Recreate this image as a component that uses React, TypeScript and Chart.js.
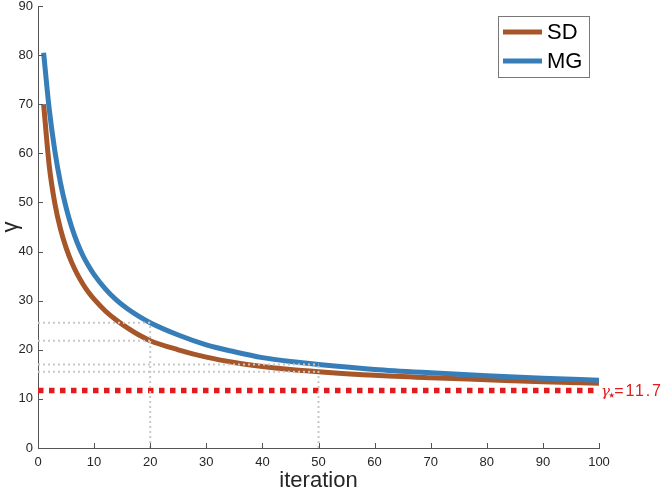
import { useEffect, useRef } from "react"
import { Chart, registerables } from "chart.js"

Chart.register(...registerables)

const iterations = [1, 2, 3, 4, 5, 6, 7, 8, 9, 10, 12, 14, 16, 18, 20, 25, 30, 35, 40, 45, 50, 60, 70, 80, 90, 100]
const sdValues = [70, 57.5, 49.8, 44.6, 40.8, 37.8, 35.4, 33.4, 31.7, 30.3, 27.9, 26.0, 24.4, 23.0, 21.85, 20.0, 18.5, 17.4, 16.6, 16.0, 15.55, 14.8, 14.3, 13.9, 13.5, 13.2]
const mgValues = [80.5, 69.0, 60.5, 54.0, 49.0, 45.0, 41.8, 39.2, 37.1, 35.3, 32.4, 30.1, 28.3, 26.8, 25.5, 23.0, 21.0, 19.6, 18.4, 17.6, 17.0, 16.0, 15.3, 14.7, 14.2, 13.8]
const gammaStar = 11.7
const markedIterations = [20, 50]
const xTicks = [0, 10, 20, 30, 40, 50, 60, 70, 80, 90, 100]
const yTicks = [0, 10, 20, 30, 40, 50, 60, 70, 80, 90]

const SD_COLOR = "#a65628"
const MG_COLOR = "#377eb8"
const STAR_COLOR = "#e41a1c"
const GUIDE_COLOR = "#c8c8c8"
const AXIS_COLOR = "#555555"
const TEXT_COLOR = "#262626"
const FONT = "'Liberation Sans', Arial, sans-serif"

const toPoints = (ys: number[]) => iterations.map((x, i) => ({ x, y: ys[i] }))
const valueAt = (ys: number[], it: number) => ys[iterations.indexOf(it)]

// inward tick marks, legend box and the gamma* label
const decorations = {
  id: "decorations",
  afterDraw(chart: Chart) {
    const { ctx, chartArea } = chart
    const xs = chart.scales.x
    const ys = chart.scales.y
    ctx.save()
    ctx.strokeStyle = AXIS_COLOR
    ctx.lineWidth = 1
    ctx.beginPath()
    xTicks.forEach((t) => {
      const px = Math.round(xs.getPixelForValue(t)) + 0.5
      ctx.moveTo(px, chartArea.bottom)
      ctx.lineTo(px, chartArea.bottom - 5)
    })
    yTicks.forEach((t) => {
      const py = Math.round(ys.getPixelForValue(t)) + 0.5
      ctx.moveTo(chartArea.left, py)
      ctx.lineTo(chartArea.left + 5, py)
    })
    ctx.stroke()

    // gamma* label
    const ly = ys.getPixelForValue(gammaStar) + 5
    let lx = xs.getPixelForValue(100) + 2
    ctx.fillStyle = STAR_COLOR
    ctx.textBaseline = "alphabetic"
    ctx.textAlign = "left"
    ctx.font = `italic 15px 'DejaVu Serif', serif`
    ctx.fillText("γ", lx, ly)
    lx += ctx.measureText("γ").width
    ctx.font = `15px 'DejaVu Sans', sans-serif`
    ctx.fillText("⋆", lx - 3, ly + 4)
    lx += ctx.measureText("⋆").width - 5
    ctx.font = `16px ${FONT}`
    ;(ctx as any).letterSpacing = "1.8px"
    ctx.fillText("=11.7", lx, ly)
    ;(ctx as any).letterSpacing = "0px"

    // legend
    ctx.fillStyle = "#ffffff"
    ctx.fillRect(498, 16, 91, 61)
    ctx.strokeStyle = "#777777"
    ctx.lineWidth = 1
    ctx.strokeRect(498.5, 16.5, 91, 61)
    const entries: [string, string, number][] = [
      ["SD", SD_COLOR, 32],
      ["MG", MG_COLOR, 61],
    ]
    entries.forEach(([label, color, y]) => {
      ctx.strokeStyle = color
      ctx.lineWidth = 5
      ctx.beginPath()
      ctx.moveTo(503, y)
      ctx.lineTo(542, y)
      ctx.stroke()
      ctx.fillStyle = "#000000"
      ctx.font = `22px ${FONT}`
      ctx.textBaseline = "middle"
      ctx.fillText(label, 547, y + 1)
    })
    ctx.restore()
  },
}

export default function App() {
  const chartRef = useRef<HTMLCanvasElement>(null)
  const chartInstance = useRef<Chart | null>(null)

  useEffect(() => {
    if (!chartRef.current) return
    if (chartInstance.current) chartInstance.current.destroy()
    const ctx = chartRef.current.getContext("2d")
    if (!ctx) return

    const guides: { x: number; y: number }[][] = []
    markedIterations.forEach((it) => {
      const sd = valueAt(sdValues, it)
      const mg = valueAt(mgValues, it)
      ;[mg, sd].forEach((v) => {
        guides.push([
          { x: 0, y: v },
          { x: it, y: v },
        ])
      })
      guides.push([
        { x: it, y: 0 },
        { x: it, y: Math.max(sd, mg) },
      ])
    })

    chartInstance.current = new Chart(ctx, {
      type: "line",
      data: {
        datasets: [
          ...guides.map((g) => ({
            label: "",
            data: g,
            borderColor: GUIDE_COLOR,
            borderWidth: 2,
            borderDash: [2, 3],
            pointRadius: 0,
            order: 0,
          })),
          {
            label: "gamma*",
            data: [
              { x: 0, y: gammaStar },
              { x: 100, y: gammaStar },
            ],
            borderColor: STAR_COLOR,
            borderWidth: 5.5,
            borderDash: [5.5, 5.5],
            pointRadius: 0,
            order: 0,
          },
          {
            label: "MG",
            data: toPoints(mgValues),
            borderColor: MG_COLOR,
            borderWidth: 5,
            pointRadius: 0,
            cubicInterpolationMode: "monotone",
            order: 1,
          },
          {
            label: "SD",
            data: toPoints(sdValues),
            borderColor: SD_COLOR,
            borderWidth: 5,
            pointRadius: 0,
            cubicInterpolationMode: "monotone",
            order: 2,
          },
        ],
      },
      options: {
        responsive: false,
        animation: false,
        events: [],
        layout: { padding: { left: 0, right: 65, top: 6, bottom: 0 } },
        plugins: {
          legend: { display: false },
          tooltip: { enabled: false },
        },
        scales: {
          x: {
            type: "linear",
            min: 0,
            max: 100,
            afterFit: (scale: any) => {
              scale.height = 47
            },
            ticks: { stepSize: 10, color: TEXT_COLOR, padding: 7, font: { family: FONT, size: 13 }, maxRotation: 0 },
            grid: { display: true, drawOnChartArea: false, drawTicks: false },
            border: { color: AXIS_COLOR },
            title: {
              display: true,
              text: "iteration",
              color: TEXT_COLOR,
              font: { family: FONT, size: 22, lineHeight: 1 },
              padding: { top: 0, bottom: 3 },
            },
          },
          y: {
            type: "linear",
            min: 0,
            max: 90,
            afterFit: (scale: any) => {
              scale.width = 38
              scale.paddingTop = 0
              scale.paddingBottom = 0
            },
            ticks: { stepSize: 10, color: TEXT_COLOR, padding: 5, font: { family: FONT, size: 13 } },
            grid: { display: true, drawOnChartArea: false, drawTicks: false },
            border: { color: AXIS_COLOR },
            title: {
              display: true,
              text: "γ",
              color: TEXT_COLOR,
              font: { family: FONT, size: 22, lineHeight: 1 },
              padding: { top: 0, bottom: 0 },
            },
          },
        },
      },
      plugins: [decorations],
    })

    return () => {
      if (chartInstance.current) {
        chartInstance.current.destroy()
        chartInstance.current = null
      }
    }
  }, [])

  return (
    <div style={{ position: "fixed", left: 0, top: 0, width: 664, height: 495, background: "#fff" }}>
      <canvas ref={chartRef} width={664} height={495} style={{ width: 664, height: 495 }} />
    </div>
  )
}
